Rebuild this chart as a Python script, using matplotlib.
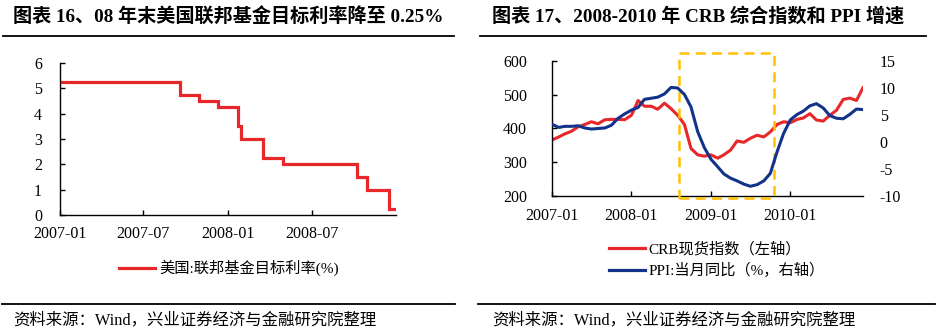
import matplotlib
matplotlib.use("Agg")
import matplotlib.pyplot as plt
import matplotlib.dates as mdates
from matplotlib.lines import Line2D
from matplotlib.patches import Rectangle
from matplotlib.transforms import blended_transform_factory
import pandas as pd

# ---------------- data ----------------
fed_dates = ["2007-01-01", "2007-09-18", "2007-10-31", "2007-12-11", "2008-01-22",
             "2008-01-30", "2008-03-18", "2008-04-30", "2008-10-08", "2008-10-29",
             "2008-12-16", "2008-12-31"]
fed_rate = [5.25, 4.75, 4.50, 4.25, 3.50, 3.00, 2.25, 2.00, 1.50, 1.00, 0.25, 0.25]

months = pd.date_range("2007-01-01", "2010-12-01", freq="MS")
crb = [366, 375, 384, 392, 405, 412, 420, 414, 426, 427, 427, 426,
       439, 483, 466, 466, 457, 475, 459, 439, 412, 341, 322, 318,
       322, 312, 322, 336, 363, 359, 371, 380, 375, 390, 412, 420,
       417, 427, 431, 444, 425, 422, 439, 454, 486, 490, 483, 521]
ppi = [3.3, 2.7, 2.9, 2.9, 3.0, 2.6, 2.4, 2.5, 2.6, 3.1, 4.4, 5.2,
       5.9, 6.4, 7.9, 8.1, 8.3, 8.9, 10.1, 10.0, 8.8, 6.5, 1.9, -1.0,
       -3.2, -4.6, -5.9, -6.7, -7.2, -7.8, -8.2, -7.9, -7.2, -5.8, -1.8, 1.6,
       4.1, 5.1, 5.7, 6.7, 7.1, 6.3, 4.9, 4.4, 4.3, 5.1, 6.1, 6.0]

left_xticks = ["2007-01-01", "2007-07-01", "2008-01-01", "2008-07-01"]
left_xticklabels = ["2007-01", "2007-07", "2008-01", "2008-07"]
right_xticks = ["2007-01-01", "2008-01-01", "2009-01-01", "2010-01-01"]
right_xticklabels = ["2007-01", "2008-01", "2009-01", "2010-01"]
box_range = ["2008-08-06", "2009-10-16"]

title_left = "图表 16、08 年末美国联邦基金目标利率降至 0.25%"
title_right = "图表 17、2008-2010 年 CRB 综合指数和 PPI 增速"
label_fed = "美国:联邦基金目标利率(%)"
label_crb = "CRB现货指数（左轴）"
label_ppi = "PPI:当月同比（%，右轴）"
source = "资料来源：Wind，兴业证券经济与金融研究院整理"

# ---------------- style ----------------
RED = "#E8272B"
BLUE = "#13338A"
ORANGE = "#FFC000"
SERIF = ["Liberation Serif", "Noto Sans CJK SC"]
plt.rcParams["font.family"] = SERIF
plt.rcParams["axes.unicode_minus"] = False

W, H = 936, 333
fig = plt.figure(figsize=(W / 100, H / 100), dpi=100)

def fx(px):
    return px / W

def fy(py):
    return 1 - py / H

# ---------------- left chart ----------------
axL = fig.add_axes([fx(60), fy(215), fx(396) - fx(60), fy(63) - fy(215)])
fd = pd.to_datetime(fed_dates)
axL.step(fd, fed_rate, where="post", color=RED, lw=2.3, solid_joinstyle="miter")
axL.set_xlim(fd[0], fd[-1])
axL.set_ylim(0, 6)
axL.set_yticks(range(0, 7))
axL.set_xticks(pd.to_datetime(left_xticks))
axL.set_xticklabels(left_xticklabels)
for s in ["top", "right"]:
    axL.spines[s].set_visible(False)
for s in ["left", "bottom"]:
    axL.spines[s].set_linewidth(1.0)
axL.tick_params(direction="in", length=3.5, width=1.0, labelsize=11.5)
axL.tick_params(axis="y", pad=13)
axL.tick_params(axis="x", pad=8)

axL.legend([Line2D([], [], color=RED, lw=2.3)], [label_fed],
           loc="center", bbox_to_anchor=(fx(229), fy(268)), bbox_transform=fig.transFigure,
           frameon=False, handlelength=2.4, handletextpad=0.3, fontsize=11,
           borderpad=0)

# ---------------- right chart ----------------
axR = fig.add_axes([fx(552), fy(196), fx(863) - fx(552), fy(61) - fy(196)])
axR.plot(months, crb, color=RED, lw=2.2)
axR.set_ylim(200, 600)
axR.set_yticks(range(200, 601, 100))
axR.set_xlim(months[0], months[-1])
axR.set_xticks(pd.to_datetime(right_xticks))
axR.set_xticklabels(right_xticklabels)
axR2 = axR.twinx()
axR2.plot(months, ppi, color=BLUE, lw=2.2)
axR2.set_ylim(-10, 15)
axR2.set_yticks(range(-10, 16, 5))
axR2.set_xlim(months[0], months[-1])
for a in (axR, axR2):
    for s in ["top", "right"]:
        a.spines[s].set_visible(False)
    for s in ["left", "bottom"]:
        a.spines[s].set_linewidth(1.0)
axR2.spines["left"].set_visible(False)
axR2.spines["bottom"].set_visible(False)
axR.tick_params(direction="in", length=3.5, width=1.0, labelsize=11.5)
axR.tick_params(axis="y", pad=18)
axR.tick_params(axis="x", pad=9)
axR2.tick_params(axis="y", length=0, labelsize=11.5, pad=12)

trans = blended_transform_factory(axR.transData, axR.transAxes)
bx = mdates.date2num(pd.to_datetime(box_range))
rect = Rectangle((bx[0], -0.015), bx[1] - bx[0], 1.075, transform=trans,
                 fill=False, edgecolor=ORANGE, lw=1.8, linestyle=(0, (4, 2.5)),
                 clip_on=False, zorder=5)
axR.add_patch(rect)

fig.legend([Line2D([], [], color=RED, lw=2.3), Line2D([], [], color=BLUE, lw=2.3)],
           [label_crb, label_ppi], loc="center left",
           bbox_to_anchor=(fx(601), fy(260)), frameon=False, handlelength=2.4,
           handletextpad=0.2, fontsize=11, borderpad=0, labelspacing=0.45)

# ---------------- titles, rules, sources ----------------
fig.text(fx(13), fy(16), title_left, fontsize=13.8, fontweight="bold", va="center", ha="left")
fig.text(fx(492), fy(16), title_right, fontsize=13.8, fontweight="bold", va="center", ha="left")
for x0, x1 in [(3, 454), (480, 926)]:
    fig.add_artist(Line2D([fx(x0), fx(x1)], [fy(35.5), fy(35.5)], color="black", lw=1.3))
for x0, x1 in [(2, 455), (478, 935)]:
    fig.add_artist(Line2D([fx(x0), fx(x1)], [fy(304), fy(304)], color="black", lw=1.3))
fig.text(fx(13), fy(320), source, fontsize=11.8, va="center", ha="left")
fig.text(fx(492), fy(320), source, fontsize=11.8, va="center", ha="left")

fig.savefig("out.png", dpi=100)
